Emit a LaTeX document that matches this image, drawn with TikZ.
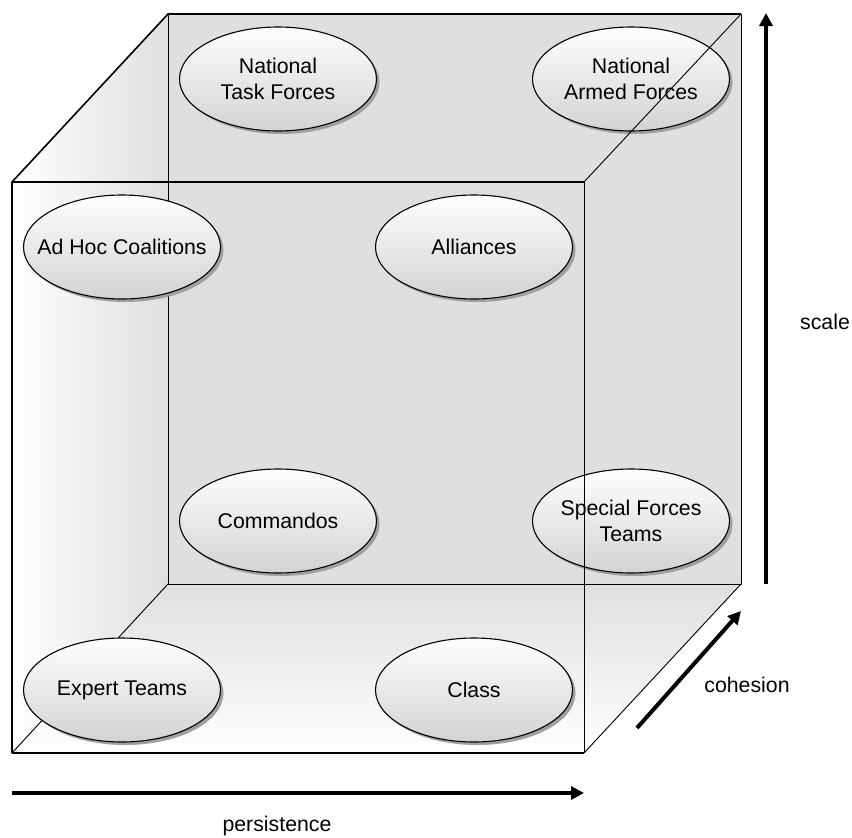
\documentclass[tikz,border=0pt]{standalone}
\usepackage{fontspec}
\setmainfont{Liberation Sans}
\usetikzlibrary{shapes.geometric,shadows,arrows.meta}
\begin{document}
\begin{tikzpicture}[x=1pt,y=-1pt,
  heavy/.style={line width=1.6pt},
  light/.style={line width=0.9pt},
  bubble/.style={ellipse, draw, line width=1.1pt, minimum width=197pt,
    minimum height=104pt, inner xsep=-30pt, inner ysep=-20pt, align=center,
    top color=white, bottom color=gray!35,
    font=\fontsize{21.3}{25.5}\selectfont,
    drop shadow={shadow xshift=3pt, shadow yshift=-3pt, fill=gray!75, opacity=1}},
  axis/.style={line width=4pt, -{Triangle[length=13pt,width=13pt]}},
  axislabel/.style={font=\fontsize{21.3}{25.5}\selectfont}]
\useasboundingbox (0,0) rectangle (852,838);

% cube corners: front face and back face
\coordinate (FTL) at (12,182);
\coordinate (FTR) at (584,182);
\coordinate (FBL) at (12,753);
\coordinate (FBR) at (584,753);
\coordinate (BTL) at (168,14);
\coordinate (BTR) at (741,14);
\coordinate (BBL) at (168,584);
\coordinate (BBR) at (741,584);

% faces
\fill[gray!25] (BTL) rectangle (BBR);
\fill[left color=white, right color=gray!25] (FTL) -- (BTL) -- (BBL) -- (FBL) -- cycle;
\fill[top color=gray!25, bottom color=white] (BBL) -- (BBR) -- (FBR) -- (FBL) -- cycle;

% hidden and outer edges
\draw[light] (BTL) -- (BBL);
\draw[light] (BBL) -- (BBR) -- (BTR);
\draw[light] (BBL) -- (FBL);
\draw[light] (BBR) -- (FBR);
\draw[heavy] (FBL) -- (FTL) -- (BTL) -- (BTR);
\draw[heavy] (FTL) -- (FTR);
\draw[heavy] (FBL) -- (FBR);

% categories
\node[bubble] (ntf) at (278,79) {National\\Task Forces};
\node[bubble] (naf) at (631,79) {National\\Armed Forces};
\node[bubble] (commandos) at (278,521) {Commandos};
\node[bubble] (sft) at (631,521) {Special Forces\\Teams};
\node[bubble] (adhoc) at (122,247) {Ad Hoc Coalitions};
\node[bubble] (alliances) at (474,247) {Alliances};
\node[bubble] (expert) at (122,690) {Expert Teams};
\node[bubble] (class) at (474,690) {Class};

% front edges drawn over the bubbles
\draw[light] (FTR) -- (FBR);
\draw[light] (BTR) -- (FTR);

% axes
\coordinate (s0) at (766,584);
\coordinate (s1) at (766,13);
\coordinate (c0) at (637,728);
\coordinate (c1) at (741,611);
\coordinate (p0) at (12,793);
\coordinate (p1) at (584,793);
\draw[axis] (s0) -- (s1);
\draw[axis] (c0) -- (c1);
\draw[axis] (p0) -- (p1);
\node[axislabel] (scaleL) at (825,322) {scale};
\node[axislabel] (cohesionL) at (747,685) {cohesion};
\node[axislabel] (persistenceL) at (277,826) {persistence};
\end{tikzpicture}
\end{document}
